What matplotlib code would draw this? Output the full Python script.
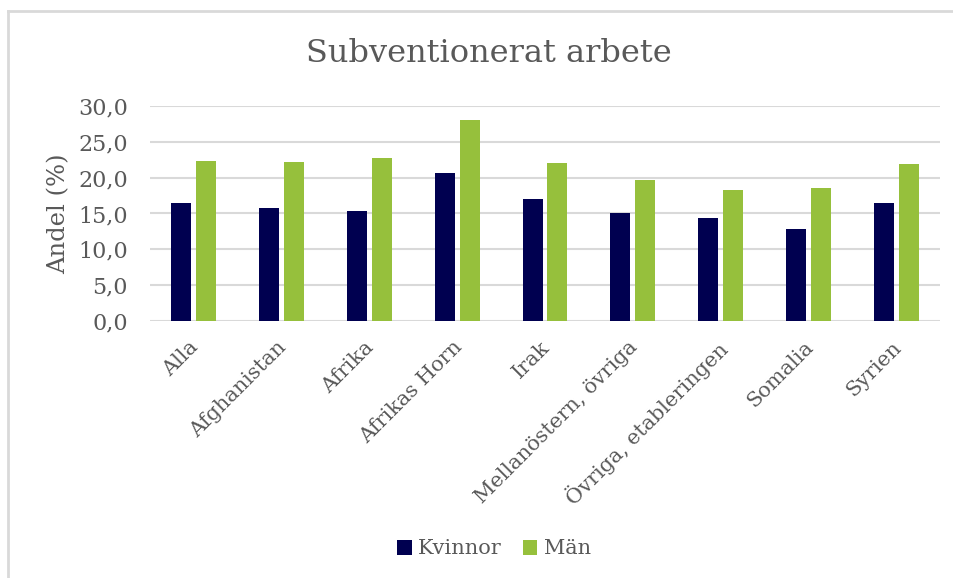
import numpy as np
import matplotlib
matplotlib.use("Agg")
import matplotlib.pyplot as plt
from matplotlib.lines import Line2D
from matplotlib.transforms import ScaledTranslation

categories = ["Alla", "Afghanistan", "Afrika", "Afrikas Horn", "Irak",
              "Mellanöstern, övriga", "Övriga, etableringen", "Somalia", "Syrien"]
kvinnor = [16.5, 15.8, 15.4, 20.6, 17.0, 15.0, 14.4, 12.8, 16.4]
man = [22.3, 22.2, 22.7, 28.0, 22.1, 19.7, 18.3, 18.6, 21.9]

grey = "#595959"
plt.rcParams["font.family"] = ["DejaVu Serif"]

fig = plt.figure(figsize=(9.54, 5.78), dpi=100)
ax = fig.add_axes([150 / 954, 1 - 321 / 578, 790 / 954, 215 / 578])

x = np.arange(len(categories))
w = 0.228
off = 0.142
ax.bar(x - off, kvinnor, w, color="#000050", label="Kvinnor", zorder=3)
ax.bar(x + off, man, w, color="#96c03c", label="Män", zorder=3)

ax.set_xlim(-0.5, len(categories) - 0.5)
ax.set_ylim(0, 30)
ticks = np.arange(0, 31, 5)
ax.set_yticks(ticks)
ax.set_yticklabels([f"{v:.1f}".replace(".", ",") for v in ticks],
                   fontsize=16, color=grey)
ax.yaxis.grid(True, color="#d9d9d9", linewidth=1.5, zorder=0)
for s in ax.spines.values():
    s.set_visible(False)
ax.tick_params(axis="both", length=0)
ax.tick_params(axis="y", pad=16)
ax.tick_params(axis="x", pad=12)
ax.set_xticks(x)
ax.set_xticklabels(categories, rotation=45, ha="right", rotation_mode="anchor",
                   fontsize=15, color=grey)
shift = ScaledTranslation(-5 / 100, 0, fig.dpi_scale_trans)
for lab in ax.get_xticklabels():
    lab.set_transform(lab.get_transform() + shift)
ax.set_ylabel("Andel (%)", fontsize=17.5, color=grey)
ax.yaxis.set_label_coords(-0.101, 0.5)

fig.text(489 / 954, 1 - 62 / 578, "Subventionerat arbete", ha="center", va="baseline",
         fontsize=23, color=grey)

fig.legend(loc="center", bbox_to_anchor=(494 / 954, 1 - 549 / 578), ncol=2,
           frameon=False, fontsize=15, handlelength=0.7, handleheight=0.7,
           handletextpad=0.3, columnspacing=1.0, labelcolor=grey)

# chart frame (only left and top edges are visible)
fig.add_artist(Line2D([8.5 / 954, 8.5 / 954], [0, 1 - 11 / 578],
                      transform=fig.transFigure, color="#d9d9d9", linewidth=2))
fig.add_artist(Line2D([8.5 / 954, 1], [1 - 11 / 578, 1 - 11 / 578],
                      transform=fig.transFigure, color="#d9d9d9", linewidth=2))

fig.savefig("out.png", dpi=100)
